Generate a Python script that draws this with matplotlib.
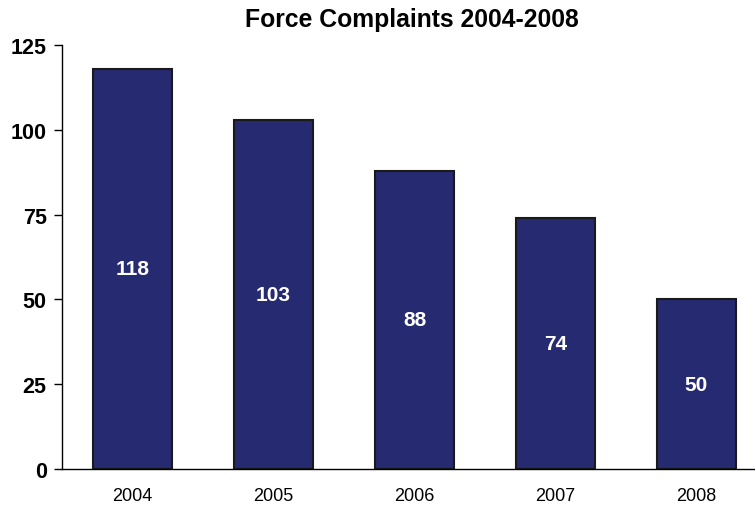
import matplotlib
matplotlib.use('Agg')
import matplotlib.pyplot as plt

years = ['2004', '2005', '2006', '2007', '2008']
complaints = [118, 103, 88, 74, 50]
yticks = [0, 25, 50, 75, 100, 125]

plt.rcParams['font.family'] = ['Liberation Sans', 'DejaVu Sans']

fig = plt.figure(figsize=(7.55, 5.06), dpi=100)
ax = fig.add_axes([62/755, 36/506, 693/755, 424/506])

x = range(len(years))
bars = ax.bar(x, complaints, width=0.56, color='#262A70', edgecolor='#1a1a1a', linewidth=1.5)

for b, v in zip(bars, complaints):
    ax.text(b.get_x() + b.get_width()/2, v/2, str(v), ha='center', va='center',
            color='white', fontsize=15, fontweight='bold')

ax.set_xlim(-0.5, -0.5 + 693/141)
ax.set_ylim(0, 125)
ax.set_yticks(yticks)
ax.set_yticklabels([str(t) for t in yticks], fontsize=15.5, fontweight='bold')
ax.set_xticks(list(x))
ax.set_xticklabels(years, fontsize=13)
ax.tick_params(axis='x', length=0, pad=13)
ax.tick_params(axis='y', length=6, width=1, pad=5)

for s in ['top', 'right']:
    ax.spines[s].set_visible(False)
ax.spines['left'].set_linewidth(1)
ax.spines['bottom'].set_linewidth(1)

fig.text(412/755, 1 - 20/506, 'Force Complaints 2004-2008', ha='center', va='center',
         fontsize=17.8, fontweight='bold')

fig.savefig('out.png', dpi=100)
